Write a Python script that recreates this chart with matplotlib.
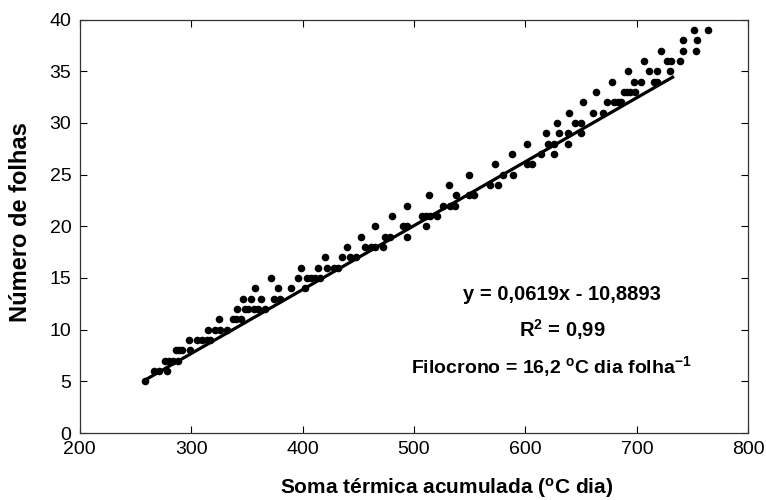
import matplotlib
matplotlib.use("Agg")
import matplotlib.pyplot as plt
import numpy as np

plt.rcParams['font.family'] = ['Liberation Sans', 'DejaVu Sans']
plt.rcParams['mathtext.fontset'] = 'custom'
plt.rcParams['mathtext.rm'] = 'Liberation Sans:bold'
plt.rcParams['mathtext.it'] = 'Liberation Sans:bold'
plt.rcParams['mathtext.bf'] = 'Liberation Sans:bold'

# ---- leaves counted (y) vs accumulated thermal sum (x) ----
leaf_levels = list(range(5, 40))
soma_by_level = [
    [259],
    [267, 271, 278],
    [277, 280, 284, 288],
    [286, 289, 292, 299],
    [298, 305, 310, 314, 317],
    [315, 321, 326, 332],
    [325, 338, 340, 345],
    [341, 348, 351, 356, 360, 366],
    [347, 354, 363, 374, 380],
    [357, 378, 390, 402],
    [372, 396, 404, 408, 411, 416],
    [399, 414, 422, 428, 432],
    [420, 435, 443, 448],
    [440, 456, 461, 465, 472],
    [452, 474, 478, 494],
    [465, 490, 494, 511],
    [480, 507, 511, 514, 521],
    [494, 526, 532, 537],
    [513, 538, 549, 554],
    [531, 568, 575],
    [549, 580, 589],
    [573, 601, 606],
    [588, 614, 626],
    [601, 620, 626, 638],
    [618, 630, 638, 650],
    [628, 644, 650],
    [639, 661, 670],
    [652, 673, 679, 683, 686],
    [663, 688, 691, 694, 698],
    [678, 697, 704, 715, 718],
    [692, 711, 718, 730],
    [706, 727, 731, 739],
    [722, 741, 753],
    [741, 754],
    [751, 764],
]

# regression shown on the chart
slope, intercept = 0.0619, -10.8893
line_x = [260, 732]

xs, ys = [], []
for lvl, vals in zip(leaf_levels, soma_by_level):
    for v in vals:
        xs.append(v); ys.append(lvl)

fig = plt.figure(figsize=(7.66, 5.0), dpi=100)
ax = fig.add_axes([0.104, 0.134, 0.873, 0.827])

ax.scatter(xs, ys, s=30, color="black", zorder=3, linewidths=0)
lx = np.array(line_x, dtype=float)
ax.plot(lx, slope * lx + intercept, color="black", lw=2.3, zorder=2)

ax.set_xlim(200, 800)
ax.set_ylim(0, 40)
ax.set_xticks(range(200, 801, 100))
ax.set_yticks(range(0, 41, 5))
ax.tick_params(direction="in", length=5, width=0.8, top=True, right=True,
               labelsize=14, pad=6)
for sp in ax.spines.values():
    sp.set_linewidth(0.9)
    sp.set_color("#333333")

ax.set_xlabel("Soma térmica acumulada ($^{o}$C dia)", fontsize=15, fontweight="bold")
ax.xaxis.set_label_coords(0.548, -0.105)
ax.set_ylabel("Número de folhas", fontsize=17, fontweight="bold")
ax.yaxis.set_label_coords(-0.072, 0.51)

ax.text(633, 13.4, "y = 0,0619x - 10,8893", fontsize=14.5, fontweight="bold", ha="center", va="center")
ax.text(633, 10.0, "R$^{2}$ = 0,99", fontsize=14.5, fontweight="bold", ha="center", va="center")
ax.text(623, 6.4, "Filocrono = 16,2 $^{o}$C dia folha$^{-1}$", fontsize=14, fontweight="bold",
        ha="center", va="center")

fig.savefig("out.png", dpi=100)
